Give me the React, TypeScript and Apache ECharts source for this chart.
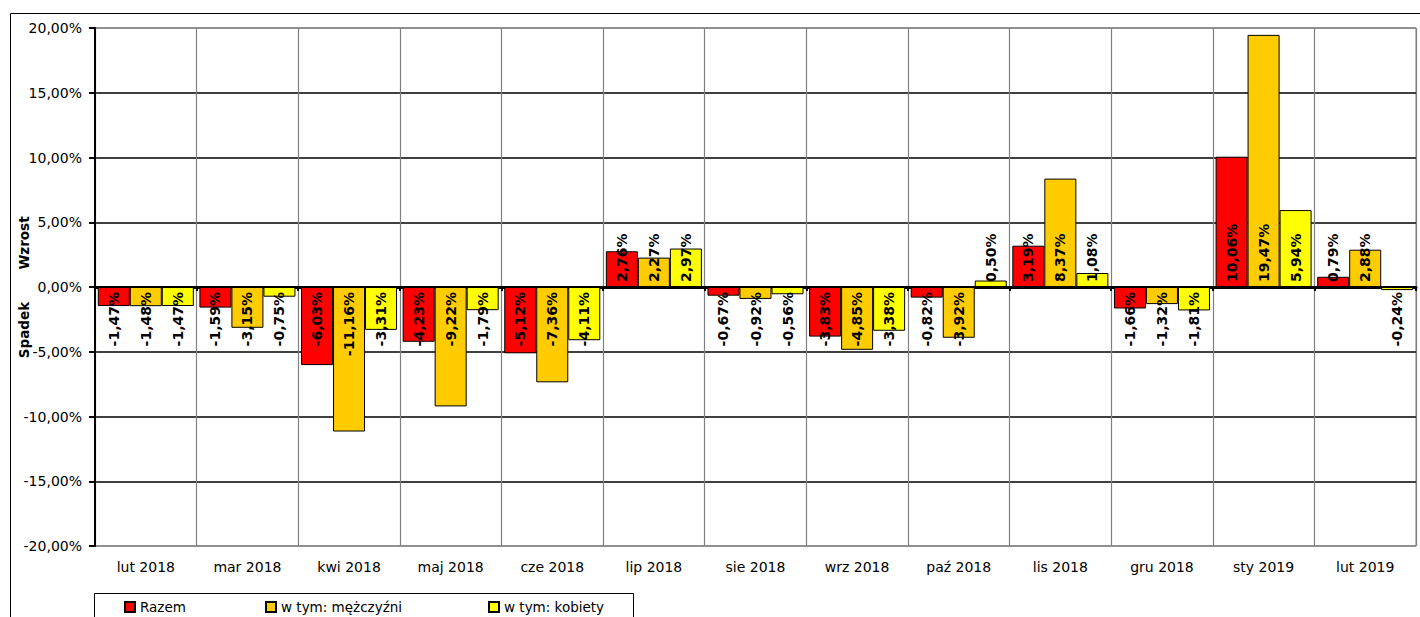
import React, { useEffect, useRef } from 'react';
import * as echarts from 'echarts';

const categories = [
  'lut 2018', 'mar 2018', 'kwi 2018', 'maj 2018', 'cze 2018', 'lip 2018', 'sie 2018',
  'wrz 2018', 'paź 2018', 'lis 2018', 'gru 2018', 'sty 2019', 'lut 2019',
];
const razem = [-1.47, -1.59, -6.03, -4.23, -5.12, 2.76, -0.67, -3.83, -0.82, 3.19, -1.66, 10.06, 0.79];
const mezczyzni = [-1.48, -3.15, -11.16, -9.22, -7.36, 2.27, -0.92, -4.85, -3.92, 8.37, -1.32, 19.47, 2.88];
const kobiety = [-1.47, -0.75, -3.31, -1.79, -4.11, 2.97, -0.56, -3.38, 0.5, 1.08, -1.81, 5.94, -0.24];
const seriesNames = ['Razem', 'w tym: mężczyźni', 'w tym: kobiety'];
const seriesColors = ['#FF0000', '#FFCC00', '#FFFF00'];
const yMin = -20;
const yMax = 20;
const yInterval = 5;

const FONT = '"DejaVu Sans", Verdana, sans-serif';
const fmt = (v: number) => v.toFixed(2).replace('.', ',') + '%';

function withLabels(values: number[]) {
  return values.map((v) => ({
    value: v,
    label: v >= 0
      ? { position: 'insideBottom', align: 'left' }
      : { position: 'insideTop', align: 'right' },
  }));
}

export default function App() {
  const ref = useRef<HTMLDivElement>(null);

  useEffect(() => {
    if (!ref.current) return;
    const chart = echarts.init(ref.current, undefined, { renderer: 'svg' });
    const allValues = [razem, mezczyzni, kobiety];
    const splitColors = ['#808080', '#000', '#000', '#000', '#000', '#000', '#000', '#000', '#808080'];
    const legendLefts = [124, 265, 488];

    chart.setOption({
      animation: false,
      backgroundColor: '#fff',
      grid: {
        left: 95, right: 4, top: 28, bottom: 71,
        show: true, borderColor: '#808080', borderWidth: 1,
      },
      legend: seriesNames.map((name, i) => ({
        data: [name],
        left: legendLefts[i],
        top: 600,
        padding: 0,
        icon: 'rect',
        itemWidth: 10,
        itemHeight: 10,
        itemGap: 5,
        textStyle: { fontFamily: FONT, fontSize: 13.5, color: '#000' },
      })),
      xAxis: [
        {
          type: 'category',
          data: categories,
          position: 'bottom',
          axisLine: { show: false, onZero: false },
          axisTick: { show: false },
          axisLabel: { fontFamily: FONT, fontSize: 14, color: '#000', margin: 14, interval: 0 },
          splitLine: { show: true, lineStyle: { color: '#808080', width: 1.2 } },
        },
        {
          type: 'category',
          data: categories,
          position: 'top',
          axisLine: { show: true, onZero: true, lineStyle: { color: '#000', width: 3 } },
          axisTick: { show: true, inside: true, length: 4, lineStyle: { color: '#000', width: 2 } },
          axisLabel: { show: false },
          splitLine: { show: false },
        },
      ],
      yAxis: {
        type: 'value',
        min: yMin,
        max: yMax,
        interval: yInterval,
        axisLine: { show: true, lineStyle: { color: '#000', width: 2 } },
        axisTick: { show: true, length: 6, lineStyle: { color: '#000', width: 2 } },
        axisLabel: {
          fontFamily: FONT, fontSize: 14, color: '#000', margin: 13,
          formatter: (v: number) => fmt(v),
        },
        splitLine: { show: true, lineStyle: { color: splitColors, width: 1.5 } },
      },
      series: seriesNames.map((name, i) => ({
        name,
        type: 'bar',
        xAxisIndex: 0,
        data: withLabels(allValues[i]),
        barGap: '0%',
        barCategoryGap: '5.5%',
        itemStyle: { color: seriesColors[i], borderColor: '#000', borderWidth: 1 },
        label: {
          show: true,
          rotate: 90,
          verticalAlign: 'middle',
          distance: 5,
          fontFamily: FONT,
          fontWeight: 'bold',
          fontSize: 14,
          color: '#000',
          formatter: (p: any) => fmt(p.value),
        },
      })),
      graphic: [
        {
          type: 'rect',
          shape: { x: 10.5, y: 13.5, width: 1420, height: 620 },
          style: { fill: 'none', stroke: '#000', lineWidth: 1 },
          silent: true,
          z: -10,
        },
        {
          type: 'rect',
          shape: { x: 94.5, y: 593.5, width: 539, height: 40 },
          style: { fill: '#fff', stroke: '#000', lineWidth: 1 },
          silent: true,
          z: -1,
        },
        {
          type: 'text',
          x: 24,
          y: 243,
          rotation: Math.PI / 2,
          style: {
            text: 'Wzrost', fontFamily: FONT, fontWeight: 'bold', fontSize: 13.5,
            fill: '#000', textAlign: 'center', textVerticalAlign: 'middle',
          },
        },
        {
          type: 'text',
          x: 24,
          y: 330,
          rotation: Math.PI / 2,
          style: {
            text: 'Spadek', fontFamily: FONT, fontWeight: 'bold', fontSize: 13.5,
            fill: '#000', textAlign: 'center', textVerticalAlign: 'middle',
          },
        },
      ],
    });

    return () => chart.dispose();
  }, []);

  return (
    <div
      ref={ref}
      style={{ position: 'absolute', left: 0, top: 0, width: 1420, height: 617 }}
    />
  );
}
